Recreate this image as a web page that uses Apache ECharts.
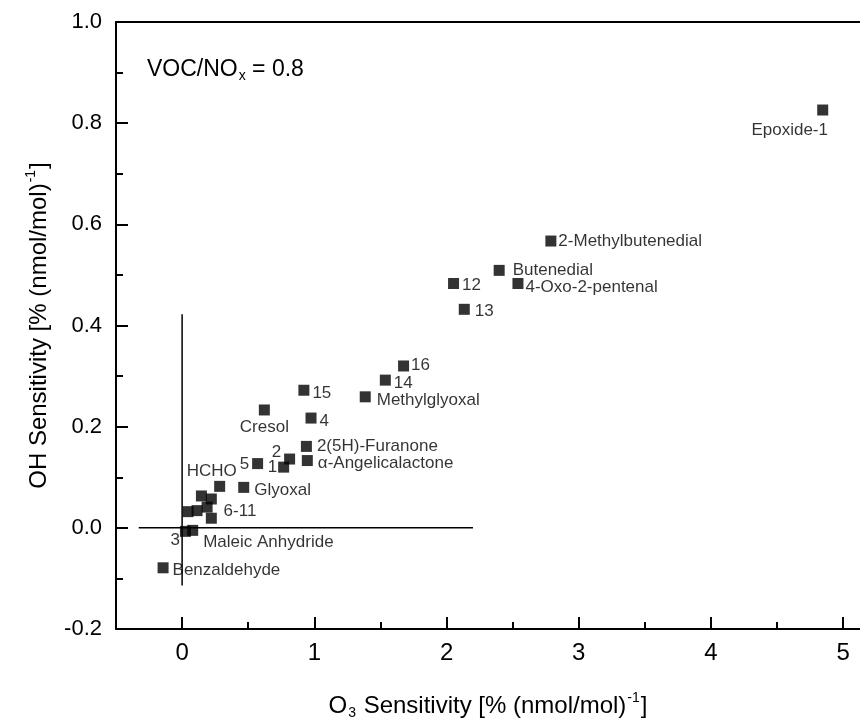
<!DOCTYPE html>
<html>
<head>
<meta charset="utf-8">
<title>OH vs O3 sensitivity</title>
<script src="https://cdn.jsdelivr.net/npm/echarts@6/dist/echarts.min.js"></script>
<style>
  html, body { margin: 0; padding: 0; background: #fff; }
  #chart { width: 860px; height: 725px; }
</style>
</head>
<body>
<div id="chart"></div>
<script>
// compounds, O3 sensitivity (x) and OH sensitivity (y), both in % (nmol/mol)^-1
const compounds = [
  'Epoxide-1', '2-Methylbutenedial', 'Butenedial', '12', '4-Oxo-2-pentenal', '13',
  '16', '14', 'Methylglyoxal', '15', 'Cresol', '4', '2(5H)-Furanone',
  'α-Angelicalactone', '2', '1', '5', 'HCHO', 'Glyoxal',
  '6', '7', '8', '9', '10', '11',
  '3', 'Maleic Anhydride', 'Benzaldehyde'
]
const o3Sens = [
  4.845, 2.789, 2.398, 2.053, 2.540, 2.134,
  1.675, 1.537, 1.385, 0.921, 0.622, 0.975, 0.940,
  0.947, 0.813, 0.768, 0.571, 0.284, 0.466,
  0.146, 0.221, 0.189, 0.221, 0.113, 0.045,
  0.025, 0.080, -0.144
]
const ohSens = [
  0.826, 0.567, 0.509, 0.483, 0.483, 0.432,
  0.320, 0.292, 0.259, 0.272, 0.233, 0.217, 0.161,
  0.133, 0.136, 0.120, 0.127, 0.082, 0.080,
  0.063, 0.057, 0.041, 0.019, 0.034, 0.032,
  -0.007, -0.005, -0.079
]
// text written beside each point ('' = no label, 6-11 share one)
const pointLabels = [
  'Epoxide-1', '2-Methylbutenedial', 'Butenedial', '12', '4-Oxo-2-pentenal', '13',
  '16', '14', 'Methylglyoxal', '15', 'Cresol', '4', '2(5H)-Furanone',
  'α-Angelicalactone', '2', '1', '5', 'HCHO', 'Glyoxal',
  '', '', '6-11', '', '', '',
  '3', 'Maleic Anhydride', 'Benzaldehyde'
]
const xMajorTicks = [0, 1, 2, 3, 4, 5]
const xMinorTicks = [0.5, 1.5, 2.5, 3.5, 4.5]
// the two thin cross lines through the origin
const crossV = [[0, -0.114], [0, 0.422]]
const crossH = [[-0.328, 0], [2.2, 0]]

const font = 'Liberation Sans, Arial, sans-serif'

// where each label sits relative to its marker
const labelPlace = {
  'Epoxide-1': { position: 'bottom', distance: 6, offset: [-33, 0] },
  '2-Methylbutenedial': { position: 'right', distance: 2 },
  'Butenedial': { position: 'right', distance: 8 },
  '12': { position: 'right', distance: 3, offset: [0, 2] },
  '4-Oxo-2-pentenal': { position: 'right', distance: 2, offset: [0, 4] },
  '13': { position: 'right', distance: 5, offset: [0, 2] },
  '16': { position: 'right', distance: 2, offset: [0, -1] },
  '14': { position: 'right', distance: 3, offset: [0, 3] },
  'Methylglyoxal': { position: 'right', distance: 6, offset: [0, 3] },
  '15': { position: 'right', distance: 3, offset: [0, 3] },
  'Cresol': { position: 'bottom', distance: 3 },
  '4': { position: 'right', distance: 3, offset: [0, 3] },
  '2(5H)-Furanone': { position: 'right', distance: 5 },
  'α-Angelicalactone': { position: 'right', distance: 5, offset: [0, 3] },
  '2': { position: 'left', distance: 3, offset: [0, -7] },
  '1': { position: 'left', distance: 1 },
  '5': { position: 'left', distance: 3, offset: [0, 1] },
  'HCHO': { position: 'top', distance: 1, offset: [-8, 0] },
  'Glyoxal': { position: 'right', distance: 5, offset: [0, 3] },
  '6-11': { position: 'right', distance: 11, offset: [0, 4] },
  '3': { position: 'left', distance: 0, offset: [0, 9] },
  'Maleic Anhydride': { position: 'right', distance: 5, offset: [0, 12] },
  'Benzaldehyde': { position: 'right', distance: 4, offset: [0, 3] }
}

const points = compounds.map(function(name, i) {
  const text = pointLabels[i]
  return {
    name: name,
    value: [o3Sens[i], ohSens[i]],
    label: text ? Object.assign({ show: true, formatter: text }, labelPlace[text]) : { show: false }
  }
})

const chart = echarts.init(document.getElementById('chart'))

const xMin = -0.5
const xMax = 5.127

chart.setOption({
  animation: false,
  backgroundColor: '#fff',
  textStyle: { fontFamily: font, color: '#000' },
  grid: { left: 116, right: 0, top: 22, bottom: 95 },
  graphic: [
    {
      type: 'text',
      left: 147,
      top: 58,
      style: {
        text: '{n|VOC/NO}{sub|x}{n| = 0.8}',
        fill: '#000',
        rich: {
          n: { fontSize: 23, fontFamily: font, fill: '#000' },
          sub: { fontSize: 14, fontFamily: font, fill: '#000', padding: [14, 0, 0, 1] }
        }
      }
    }
  ],
  xAxis: [
    {
      type: 'value',
      min: xMin,
      max: xMax,
      position: 'bottom',
      name: '{n|O}{sub|3}{n| Sensitivity [% (nmol/mol)}{sup|-1}{n|]}',
      nameLocation: 'middle',
      nameGap: 62,
      nameTextStyle: {
        rich: {
          n: { fontSize: 24, fontFamily: font, color: '#000' },
          sub: { fontSize: 14, fontFamily: font, color: '#000', padding: [14, 1, 0, 1] },
          sup: { fontSize: 14, fontFamily: font, color: '#000', padding: [0, 1, 16, 1] }
        }
      },
      axisLine: { onZero: false, lineStyle: { color: '#000', width: 2 } },
      axisTick: { inside: true, length: 12, customValues: xMajorTicks, lineStyle: { color: '#000', width: 2 } },
      axisLabel: { customValues: xMajorTicks, fontSize: 24, color: '#000', margin: 12 },
      splitLine: { show: false }
    },
    {
      type: 'value',
      min: xMin,
      max: xMax,
      position: 'bottom',
      axisLine: { show: false, onZero: false },
      axisTick: { inside: true, length: 7, customValues: xMinorTicks, lineStyle: { color: '#000', width: 2 } },
      axisLabel: { show: false },
      splitLine: { show: false }
    },
    {
      type: 'value',
      min: xMin,
      max: xMax,
      position: 'top',
      axisLine: { show: true, onZero: false, lineStyle: { color: '#000', width: 2 } },
      axisTick: { show: false },
      axisLabel: { show: false },
      splitLine: { show: false }
    }
  ],
  yAxis: {
    type: 'value',
    min: -0.2,
    max: 1.0,
    interval: 0.2,
    name: '{n|OH Sensitivity [% (nmol/mol)}{sup|-1}{n|]}',
    nameLocation: 'middle',
    nameGap: 62,
    nameTextStyle: {
      rich: {
        n: { fontSize: 24, fontFamily: font, color: '#000' },
        sup: { fontSize: 14, fontFamily: font, color: '#000', padding: [0, 1, 16, 1] }
      }
    },
    axisLine: { onZero: false, lineStyle: { color: '#000', width: 2 } },
    axisTick: { inside: true, length: 12, lineStyle: { color: '#000', width: 2 } },
    minorTick: { show: true, splitNumber: 2, length: 7, lineStyle: { color: '#000', width: 2 } },
    axisLabel: {
      fontSize: 22,
      color: '#000',
      margin: 14,
      formatter: function(v) {
        return v.toFixed(1)
      }
    },
    splitLine: { show: false }
  },
  series: [
    {
      type: 'line',
      data: crossV,
      symbol: 'none',
      lineStyle: { color: '#000', width: 1.5 },
      silent: true
    },
    {
      type: 'line',
      data: crossH,
      symbol: 'none',
      lineStyle: { color: '#000', width: 1.5 },
      silent: true
    },
    {
      type: 'scatter',
      symbol: 'rect',
      symbolSize: 11,
      itemStyle: { color: '#000' },
      label: { fontSize: 17, fontFamily: font, color: '#000' },
      data: points
    }
  ]
})
</script>
</body>
</html>
